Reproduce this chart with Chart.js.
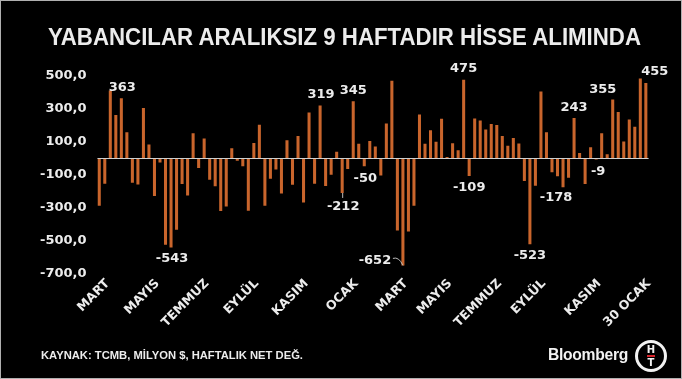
<!DOCTYPE html>
<html><head><meta charset="utf-8">
<script src="https://cdn.jsdelivr.net/npm/chart.js@4"></script>
<style>
html,body{margin:0;padding:0;background:#000;}
#wrap{position:relative;width:682px;height:379px;background:#000;overflow:hidden;}
#c{position:absolute;left:0;top:0;}
#frame{position:absolute;left:0;top:0;width:682px;height:379px;box-sizing:border-box;border:1px solid #b0b0b0;pointer-events:none;}
.txt{position:absolute;white-space:nowrap;transform-origin:0 0;}
#title{top:25px;font:bold 24px/24px "Liberation Sans",Arial,sans-serif;color:#ececec;}
#foot{top:349.5px;font:bold 11px/11px "Liberation Sans",Arial,sans-serif;color:#ececec;}
#bb{top:347px;font:bold 16px/16px "Liberation Sans",Arial,sans-serif;color:#f2f2f2;letter-spacing:-0.3px;}
#logo{position:absolute;left:635px;top:340px;width:26px;height:26px;border:3px solid #f2f2f2;border-radius:50%;}
#logo .l{position:absolute;left:0;width:26px;text-align:center;font:bold 10px/10px "DejaVu Sans",sans-serif;color:#f2f2f2;}
#logo .bar{position:absolute;left:9px;top:12px;width:8px;height:2px;background:#d8232a;}
</style></head>
<body>
<div id="wrap">
<canvas id="c" width="682" height="379"></canvas>
<div id="title" class="txt">YABANCILAR ARALIKSIZ 9 HAFTADIR HİSSE ALIMINDA</div>
<div id="foot" class="txt">KAYNAK: TCMB, MİLYON $, HAFTALIK NET DEĞ.</div>
<div id="bb" class="txt">Bloomberg</div>
<div id="logo"><div class="l" style="top:2px">H</div><div class="bar"></div><div class="l" style="top:15px">T</div></div>
<div id="frame"></div>
</div>
<script>
// ---- data ----
const weekValues = [
 -290,-156,410,262,363,156,-150,-160,304,82,
 -230,-27,-526,-543,-436,-158,-228,151,-61,119,
 -132,-172,-322,-294,60,-16,-50,-320,92,202,
 -290,-126,-70,-215,108,-163,134,-270,276,-156,
 319,-170,-102,38,-212,-66,345,86,-50,104,
 70,-106,210,470,-440,-652,-446,-290,264,86,
 169,99,239,6,90,48,475,-109,240,228,
 174,206,200,134,74,122,88,-140,-523,-168,
 404,157,-86,-110,-178,-120,243,30,-158,66,
 -9,150,23,355,279,100,234,190,483,455];
const weekCategories = weekValues.map((v,i)=>'H'+(i+1));
const monthTickLabels = ['MART','MAYIS','TEMMUZ','EYLÜL','KASIM','OCAK','MART','MAYIS','TEMMUZ','EYLÜL','KASIM','30 OCAK'];
const monthTickWeeks  = [1,10,19,28,37,46,55,63,72,80,90,99];
const yTickValues = [-700,-500,-300,-100,100,300,500];
const labelledWeeks = [4,13,40,46,44,48,55,66,67,78,84,86,90,93,99];

// ---- styles / layout ----
const labelOffsets = [[1,-11],[1,11],[1,-11],[0,-10.5],[1,13.5],[1,12],[-28,-5],[0,-11],[0,11.5],[0,11.5],[-7,10.5],[0,-10],[2,12.5],[-10,-10],[9,-11]];
const BAR = '#c9652c';
const TXT = '#ececec';
const FONT = 'DejaVu Sans';

function fmt(v){ return v.toFixed(1).replace('.',','); }

const zeroLine = {
  id:'zeroLine',
  afterDatasetsDraw(c){
    const ctx=c.ctx, y=Math.round(c.scales.y.getPixelForValue(0))+0.5;
    ctx.save(); ctx.strokeStyle='#cfcfcf'; ctx.lineWidth=1;
    ctx.beginPath(); ctx.moveTo(c.chartArea.left+1,y); ctx.lineTo(c.chartArea.right,y); ctx.stroke(); ctx.restore();
  }
};
const valueLabels = {
  id:'valueLabels',
  afterDatasetsDraw(c){
    const ctx=c.ctx, meta=c.getDatasetMeta(0);
    ctx.save();
    ctx.font='bold 13px "'+FONT+'"'; ctx.fillStyle=TXT; ctx.textAlign='center'; ctx.textBaseline='middle';
    labelledWeeks.forEach((wi,k)=>{
      const el=meta.data[wi]; const o=labelOffsets[k];
      ctx.fillText(String(weekValues[wi]), el.x+o[0], el.y+o[1]);
      if (weekValues[wi]===-652){
        ctx.strokeStyle='#bbbbbb'; ctx.lineWidth=1; ctx.beginPath();
        ctx.moveTo(el.x-10, el.y-7); ctx.quadraticCurveTo(el.x-4, el.y-9, el.x, el.y); ctx.stroke();
      }
      if (weekValues[wi]===-212){
        ctx.strokeStyle='#bbbbbb'; ctx.lineWidth=1; ctx.beginPath();
        ctx.moveTo(el.x+0.5, el.y); ctx.lineTo(el.x+0.5, el.y+5); ctx.stroke();
      }
    });
    ctx.restore();
  }
};

new Chart(document.getElementById('c'), {
  type:'bar',
  data:{labels:weekCategories, datasets:[{data:weekValues, backgroundColor:BAR, barPercentage:0.55, categoryPercentage:1}]},
  options:{
    responsive:false, animation:false, devicePixelRatio:1,
    layout:{padding:{left:0,right:33.4,top:75.7,bottom:0}},
    plugins:{legend:{display:false}, tooltip:{enabled:false}, title:{display:false}},
    scales:{
      x:{
        grid:{display:false, drawTicks:false}, border:{display:false},
        ticks:{autoSkip:false, maxRotation:45, minRotation:45, padding:3, labelOffset:3, color:TXT,
          font:{family:FONT, weight:'bold', size:12.5},
          callback:(v,i)=>{ const k=monthTickWeeks.indexOf(i); return k>=0?monthTickLabels[k]:''; }},
        afterFit(s){ s.height=105.7; }
      },
      y:{
        min:-700, max:500,
        grid:{display:false, drawTicks:false}, border:{display:false},
        afterBuildTicks(s){ s.ticks=yTickValues.map(v=>({value:v})); },
        ticks:{padding:10, color:TXT, font:{family:FONT, weight:'bold', size:13}, callback:v=>fmt(v)},
        afterFit(s){ s.width=96.5; }
      }
    }
  },
  plugins:[zeroLine, valueLabels]
});

function fit(id,left,width){
  const el=document.getElementById(id); el.style.left=left+'px';
  const w=el.getBoundingClientRect().width; el.style.transform='scaleX('+(width/w)+')';
}
fit('title',48,593);
fit('foot',41,262);
fit('bb',548,80);
</script>
</body></html>
